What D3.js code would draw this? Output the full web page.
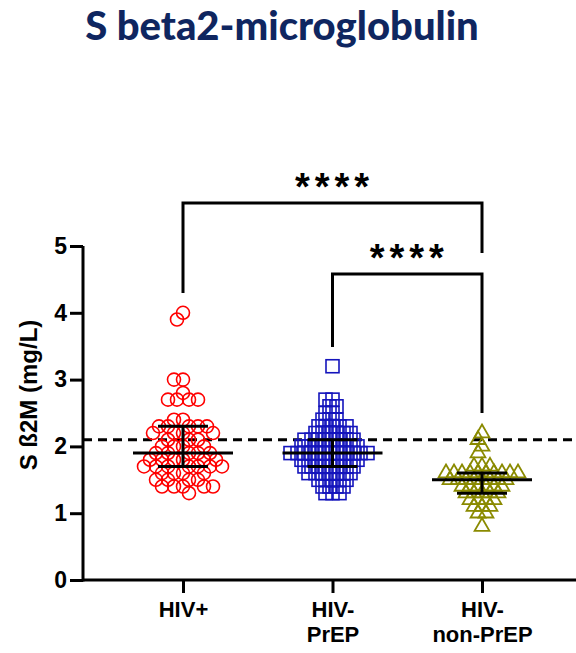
<!DOCTYPE html>
<html>
<head>
<meta charset="utf-8">
<script src="https://cdn.jsdelivr.net/npm/d3@7"></script>
<style>
  body { margin: 0; background: #ffffff; }
  svg { display: block; }
  .axis path, .axis line { stroke: #000; stroke-width: 3; }
  .axis text { font-family: "Liberation Sans", Arial, sans-serif; font-weight: bold; fill: #000; }
</style>
</head>
<body>
<div id="chart"></div>
<script>
// groups shown on the x axis
var groups = ["HIV+", "HIV-\nPrEP", "HIV-\nnon-PrEP"];

// serum beta2-microglobulin (mg/L)
var hivPos = [4.0, 3.9, 3.0, 3.0, 2.8, 2.7, 2.7, 2.7, 2.7, 2.4, 2.4,
    2.3, 2.3, 2.3, 2.3, 2.3, 2.2, 2.2, 2.2, 2.2, 2.1, 2.1, 2.1,
    2.0, 2.0, 2.0, 2.0, 1.9, 1.9, 1.9, 1.9, 1.9, 1.8, 1.8, 1.8, 1.8, 1.8, 1.8,
    1.7, 1.7, 1.7, 1.7, 1.7, 1.7, 1.7, 1.6, 1.6, 1.6, 1.6,
    1.5, 1.5, 1.5, 1.5, 1.4, 1.4, 1.4, 1.4, 1.4, 1.3];
var hivPrep = [3.2, 2.7, 2.7, 2.6, 2.6, 2.5, 2.5, 2.4, 2.4, 2.4,
    2.3, 2.3, 2.3, 2.3, 2.3, 2.2, 2.2, 2.2, 2.2, 2.2, 2.2,
    2.1, 2.1, 2.1, 2.1, 2.1, 2.1, 2.1, 2.1,
    2.0, 2.0, 2.0, 2.0, 2.0, 2.0, 2.0, 2.0, 2.0,
    1.9, 1.9, 1.9, 1.9, 1.9, 1.9, 1.9, 1.9, 1.9, 1.9, 1.9, 1.9,
    1.8, 1.8, 1.8, 1.8, 1.8, 1.8, 1.8, 1.8, 1.8,
    1.7, 1.7, 1.7, 1.7, 1.7, 1.7, 1.7, 1.7,
    1.6, 1.6, 1.6, 1.6, 1.6, 1.6, 1.6,
    1.5, 1.5, 1.5, 1.5, 1.5, 1.4, 1.4, 1.4, 1.4, 1.3, 1.3, 1.3];
var hivNonPrep = [2.2, 2.1, 2.0, 1.9, 1.7, 1.7, 1.7,
    1.6, 1.6, 1.6, 1.6, 1.6, 1.6, 1.6, 1.6, 1.6, 1.6,
    1.5, 1.5, 1.5, 1.5, 1.5, 1.5, 1.5, 1.5,
    1.4, 1.4, 1.4, 1.4, 1.4, 1.4, 1.3, 1.3, 1.3, 1.3, 1.3,
    1.2, 1.2, 1.2, 1.2, 1.1, 1.1, 1.1, 1.0, 1.0, 0.8];

var yTicks = [0, 1, 2, 3, 4, 5];
var cutoff = 2.1;

// comparisons: [from group, to group, label]
var comparisons = [[0, 2, "****"], [1, 2, "****"]];

var width = 576, height = 653;
var svg = d3.select("#chart").append("svg")
    .attr("width", width)
    .attr("height", height);

var y = d3.scaleLinear().domain([0, 5]).range([580, 246]);
var x = d3.scalePoint().domain(d3.range(groups.length)).range([183, 482]);

// title
svg.append("text")
    .attr("x", 282)
    .attr("y", 40)
    .attr("text-anchor", "middle")
    .style("font-family", "Lato, 'Open Sans', sans-serif")
    .style("font-weight", "900")
    .style("font-size", "40px")
    .style("fill", "#0f2660")
    .text("S beta2-microglobulin");

// beeswarm placement so markers spread sideways like the original
function swarm(values, cx, dmin) {
    "use strict";
    var placed = [];
    values.slice().sort(d3.descending).forEach(function(v) {
        var py = y(v);
        var k = 0, off, ok;
        while (true) {
            off = (k % 2 === 0 ? 1 : -1) * Math.ceil(k / 2);
            ok = placed.every(function(p) {
                var dx = p.x - (cx + off), dy = p.y - py;
                return dx * dx + dy * dy >= dmin * dmin;
            });
            if (ok) { break; }
            k++;
        }
        placed.push({x: cx + off, y: py, v: v});
    });
    return placed;
}

var series = [
    {vals: hivPos, color: "#ff0000", shape: "circle", d: 8.5},
    {vals: hivPrep, color: "#1414bc", shape: "square", d: 7},
    {vals: hivNonPrep, color: "#8a8a00", shape: "triangle", d: 7.6}
];

// cutoff dashed line
svg.append("line")
    .attr("x1", 83).attr("x2", width)
    .attr("y1", y(cutoff)).attr("y2", y(cutoff))
    .attr("stroke", "#000")
    .attr("stroke-width", 3)
    .attr("stroke-dasharray", "9,6");

series.forEach(function(s, i) {
    "use strict";
    var pts = swarm(s.vals, x(i), s.d);
    var g = svg.append("g");
    if (s.shape === "circle") {
        g.selectAll("circle").data(pts).enter().append("circle")
            .attr("cx", function(d) { return d.x; })
            .attr("cy", function(d) { return d.y; })
            .attr("r", 6.5)
            .attr("fill", "none")
            .attr("stroke", s.color)
            .attr("stroke-width", 1.6);
    } else if (s.shape === "square") {
        g.selectAll("rect").data(pts).enter().append("rect")
            .attr("x", function(d) { return d.x - 6.5; })
            .attr("y", function(d) { return d.y - 6.5; })
            .attr("width", 13).attr("height", 13)
            .attr("fill", "none")
            .attr("stroke", s.color)
            .attr("stroke-width", 1.6);
    } else {
        var tri = d3.symbol().type(d3.symbolTriangle).size(95);
        g.selectAll("path").data(pts).enter().append("path")
            .attr("d", tri)
            .attr("transform", function(d) {
                return "translate(" + d.x + "," + d.y + ")";
            })
            .attr("fill", "none")
            .attr("stroke", s.color)
            .attr("stroke-width", 1.8);
    }

    // median with interquartile range
    var sorted = s.vals.slice().sort(d3.ascending);
    var med = d3.quantile(sorted, 0.5);
    var q1 = d3.quantile(sorted, 0.25);
    var q3 = d3.quantile(sorted, 0.75);
    var cx = x(i);
    var lines = [
        [cx - 50, y(med), cx + 50, y(med)],
        [cx - 25, y(q1), cx + 25, y(q1)],
        [cx - 25, y(q3), cx + 25, y(q3)],
        [cx, y(q1), cx, y(q3)]
    ];
    g.selectAll("line").data(lines).enter().append("line")
        .attr("x1", function(d) { return d[0]; })
        .attr("y1", function(d) { return d[1]; })
        .attr("x2", function(d) { return d[2]; })
        .attr("y2", function(d) { return d[3]; })
        .attr("stroke", "#000")
        .attr("stroke-width", 3);
});

// axes
svg.append("g")
    .attr("class", "axis")
    .attr("transform", "translate(83,0)")
    .call(d3.axisLeft(y).tickValues(yTicks).tickFormat(d3.format("d"))
        .tickSize(13).tickPadding(3).tickSizeOuter(0))
    .call(function(g) {
        g.select(".domain").attr("d", "M0," + (y(0) + 1.5) + "V" + y(5));
        g.selectAll("text").style("font-size", "23px");
    });

var xAxis = svg.append("g")
    .attr("class", "axis")
    .attr("transform", "translate(0,580)")
    .call(d3.axisBottom(x).tickSize(13).tickSizeOuter(0).tickFormat(""));
xAxis.select(".domain").attr("d", "M83,0H" + width);

xAxis.selectAll(".tick").append("text")
    .attr("text-anchor", "middle")
    .style("font-size", "22px")
    .selectAll("tspan")
    .data(function(d) { return groups[d].split("\n"); })
    .enter().append("tspan")
    .attr("x", 0)
    .attr("y", function(d, i) { return 37 + i * 25; })
    .text(function(d) { return d; });

// y axis title
svg.append("text")
    .attr("transform", "translate(37,395) rotate(-90)")
    .attr("text-anchor", "middle")
    .style("font-family", "'Liberation Sans', Arial, sans-serif")
    .style("font-weight", "bold")
    .style("font-size", "24px")
    .text("S \u00df2M (mg/L)");

// significance brackets
var bracketY = [203, 274];
var legEnds = [[293, 253], [347, 413]];
comparisons.forEach(function(c, i) {
    "use strict";
    var x1 = x(c[0]), x2 = x(c[1]), by = bracketY[i];
    svg.append("path")
        .attr("d", "M" + x1 + "," + legEnds[i][0] + "V" + by + "H" + x2 + "V" + legEnds[i][1])
        .attr("fill", "none")
        .attr("stroke", "#000")
        .attr("stroke-width", 3);
    svg.append("text")
        .attr("x", (x1 + x2) / 2 + 2)
        .attr("y", by - 3)
        .attr("text-anchor", "middle")
        .style("font-family", "'Liberation Sans', Arial, sans-serif")
        .style("font-weight", "bold")
        .style("font-size", "38px")
        .style("letter-spacing", "5px")
        .text(c[2]);
});
</script>
</body>
</html>
